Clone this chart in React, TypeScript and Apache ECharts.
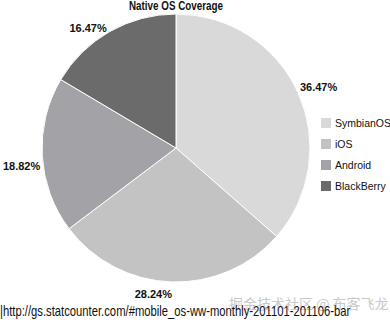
import React, { useEffect, useRef } from "react";
import * as echarts from "echarts";

const categories = ["SymbianOS", "iOS", "Android", "BlackBerry"];
const shares = [36.47, 28.24, 18.82, 16.47];
const colors = ["#d9d9d9", "#c3c3c3", "#a3a3a7", "#6b6b6b"];
const titleText = "Native OS Coverage";
const sourceText = "|http://gs.statcounter.com/#mobile_os-ww-monthly-201101-201106-bar";
const watermarkText = "掘金技术社区 @ 布客飞龙";

const FONT = "'Liberation Sans', Arial, sans-serif";
const labelNudge = [
  [-5, -5],
  [6, 10],
  [5, 10],
  [3, -2],
];

export default function App() {
  const ref = useRef<HTMLDivElement>(null);
  useEffect(() => {
    document.body.style.margin = "0";
    const chart = echarts.init(ref.current!, null, { renderer: "svg" });
    chart.setOption({
      animation: false,
      backgroundColor: "#ffffff",
      legend: {
        orient: "vertical",
        left: 319,
        top: 116,
        padding: 0,
        itemWidth: 12,
        itemHeight: 12,
        itemGap: 7,
        icon: "rect",
        data: categories,
        textStyle: { fontFamily: FONT, fontSize: 10.5, color: "#111", padding: [0, 0, 0, -2] },
      },
      graphic: [
        {
          type: "text",
          x: 176,
          y: 0,
          scaleX: 0.82,
          style: {
            text: titleText,
            textAlign: "center",
            fontSize: 12,
            fontWeight: "bold",
            fill: "#111",
            fontFamily: FONT,
          },
        },
        {
          type: "text",
          x: 229,
          y: 296,
          style: { text: watermarkText, fontSize: 14, fill: "#c9c9c9", fontFamily: "'Noto Sans CJK SC', sans-serif" },
        },
        {
          type: "text",
          x: 0,
          y: 305,
          scaleX: 0.805,
          style: { text: sourceText, fontSize: 14, fill: "#111", fontFamily: FONT },
        },
      ],
      series: [
        {
          type: "pie",
          center: [176, 148],
          radius: 134,
          startAngle: 90,
          clockwise: true,
          silent: true,
          itemStyle: { borderColor: "#ffffff", borderWidth: 1 },
          label: {
            show: true,
            position: "outside",
            overflow: "none",
            formatter: (p: any) => p.value.toFixed(2) + "%",
            fontFamily: FONT,
            fontSize: 11,
            fontWeight: "bold",
            color: "#111",
          },
          labelLine: { show: false, length: 2, length2: 0 },
          labelLayout: (p: any) => ({ dx: labelNudge[p.dataIndex][0], dy: labelNudge[p.dataIndex][1] }),
          data: categories.map((c, i) => ({ name: c, value: shares[i], itemStyle: { color: colors[i] } })),
        },
      ],
    });
    return () => chart.dispose();
  }, []);
  return <div ref={ref} style={{ width: 390, height: 323 }} />;
}
